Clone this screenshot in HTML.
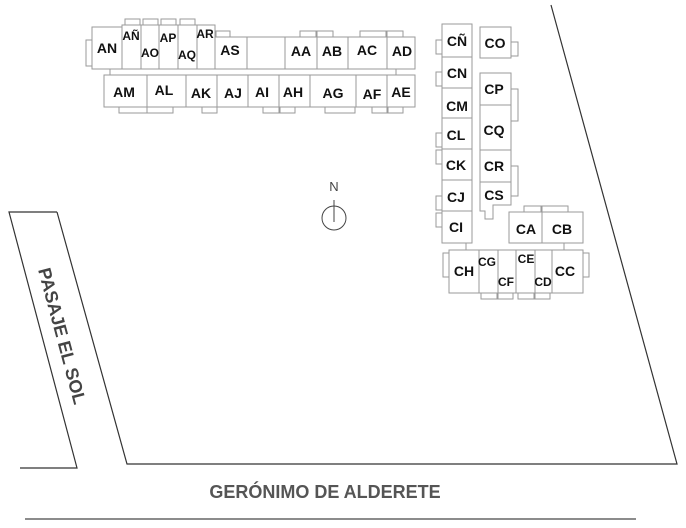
<!DOCTYPE html>
<html><head><meta charset="utf-8"><style>
html,body{margin:0;padding:0;background:#fff;width:686px;height:528px;overflow:hidden}
svg{display:block}
.b{fill:#fff;stroke:#9a9a9a;stroke-width:1}
.s{fill:#fff;stroke:#9a9a9a;stroke-width:1}
text{font-family:"Liberation Sans",sans-serif;font-weight:bold;fill:#111;text-anchor:middle}
.t{font-size:14px}
.m{font-size:12px}
</style></head><body>
<svg width="686" height="528" viewBox="0 0 686 528">
<!-- roads -->
<polyline points="20,468 77,468 9,212 57,212" fill="none" stroke="#333" stroke-width="1.2"/>
<polyline points="551,5 677,464 127,464 57,212" fill="none" stroke="#333" stroke-width="1.2"/>
<line x1="25" y1="519" x2="636" y2="519" stroke="#666" stroke-width="1.5"/>
<text x="325" y="498" style="font-size:18px;fill:#555">GERÓNIMO DE ALDERETE</text>
<text transform="translate(62,336) rotate(75)" style="font-size:18px;fill:#444" y="6">PASAJE EL SOL</text>
<!-- north -->
<text x="334" y="191" style="font-size:13px;font-weight:normal;fill:#444">N</text>
<circle cx="334" cy="218" r="12" fill="none" stroke="#444"/>
<line x1="334" y1="200" x2="334" y2="222" stroke="#444"/>
<!-- appendages top block -->
<rect class="s" x="86" y="40" width="6" height="26"/>
<rect class="s" x="125" y="19" width="15" height="6"/><rect class="s" x="143" y="19" width="15" height="6"/>
<rect class="s" x="161" y="19" width="15" height="6"/><rect class="s" x="180" y="19" width="15" height="6"/>
<rect class="s" x="216" y="31" width="14" height="6"/>
<rect class="s" x="300" y="31" width="16" height="6"/><rect class="s" x="317" y="31" width="16" height="6"/>
<rect class="s" x="360" y="31" width="26" height="6"/><rect class="s" x="387" y="31" width="16" height="6"/>
<rect class="s" x="119" y="107" width="28" height="6"/><rect class="s" x="147" y="107" width="26" height="6"/>
<rect class="s" x="202" y="107" width="15" height="6"/><rect class="s" x="263" y="107" width="16" height="6"/>
<rect class="s" x="280" y="107" width="15" height="6"/><rect class="s" x="325" y="107" width="30" height="6"/>
<rect class="s" x="372" y="107" width="15" height="6"/><rect class="s" x="388" y="107" width="15" height="6"/>
<!-- top row -->
<rect class="b" x="92" y="27" width="30" height="42"/>
<rect class="b" x="122" y="25" width="19" height="44"/><rect class="b" x="141" y="25" width="18" height="44"/>
<rect class="b" x="159" y="25" width="19" height="44"/><rect class="b" x="178" y="25" width="19" height="44"/>
<rect class="b" x="197" y="25" width="18" height="44"/>
<rect class="b" x="215" y="37" width="32" height="32"/><rect class="b" x="247" y="37" width="38" height="32"/>
<rect class="b" x="285" y="37" width="32" height="32"/><rect class="b" x="317" y="37" width="31" height="32"/>
<rect class="b" x="348" y="37" width="39" height="32"/><rect class="b" x="387" y="37" width="28" height="32"/>
<line x1="110" y1="69" x2="110" y2="75" stroke="#9a9a9a"/><line x1="396" y1="69" x2="396" y2="75" stroke="#9a9a9a"/>
<!-- bottom row -->
<rect class="b" x="104" y="75" width="43" height="32"/><rect class="b" x="147" y="75" width="39" height="32"/>
<rect class="b" x="186" y="75" width="31" height="32"/><rect class="b" x="217" y="75" width="31" height="32"/>
<rect class="b" x="248" y="75" width="31" height="32"/><rect class="b" x="279" y="75" width="31" height="32"/>
<rect class="b" x="310" y="75" width="46" height="32"/><rect class="b" x="356" y="75" width="31" height="32"/>
<rect class="b" x="387" y="75" width="28" height="32"/>
<text class="t" x="107" y="53">AN</text><text class="m" x="131" y="40">AÑ</text><text class="m" x="150" y="57">AO</text>
<text class="m" x="168" y="42">AP</text><text class="m" x="187" y="59">AQ</text><text class="m" x="205" y="38">AR</text>
<text class="t" x="230" y="55">AS</text><text class="t" x="301" y="56">AA</text><text class="t" x="332" y="56">AB</text>
<text class="t" x="367" y="55">AC</text><text class="t" x="402" y="56">AD</text>
<text class="t" x="124" y="97">AM</text><text class="t" x="164" y="95">AL</text><text class="t" x="201" y="98">AK</text>
<text class="t" x="233" y="98">AJ</text><text class="t" x="262" y="97">AI</text><text class="t" x="293" y="97">AH</text>
<text class="t" x="333" y="98">AG</text><text class="t" x="372" y="99">AF</text><text class="t" x="401" y="97">AE</text>
<!-- right group appendages -->
<rect class="s" x="436" y="40" width="6" height="14"/><rect class="s" x="436" y="72" width="6" height="14"/>
<rect class="s" x="436" y="133" width="6" height="14"/><rect class="s" x="436" y="150" width="6" height="14"/>
<rect class="s" x="436" y="196" width="6" height="14"/><rect class="s" x="436" y="213" width="6" height="14"/>
<rect class="s" x="511" y="42" width="7" height="14"/><rect class="s" x="511" y="89" width="7" height="32"/>
<rect class="s" x="511" y="166" width="7" height="30"/>
<rect class="s" x="524" y="206" width="17" height="6"/><rect class="s" x="542" y="206" width="26" height="6"/>
<rect class="s" x="443" y="253" width="6" height="24"/><rect class="s" x="583" y="253" width="6" height="24"/>
<rect class="s" x="481" y="293" width="16" height="6"/><rect class="s" x="498" y="293" width="15" height="6"/>
<rect class="s" x="518" y="293" width="16" height="6"/><rect class="s" x="535" y="293" width="15" height="6"/>
<!-- left column -->
<rect class="b" x="442" y="24" width="30" height="33"/><rect class="b" x="442" y="57" width="30" height="31"/>
<rect class="b" x="442" y="88" width="30" height="30"/><rect class="b" x="442" y="118" width="30" height="31"/>
<rect class="b" x="442" y="149" width="30" height="31"/><rect class="b" x="442" y="180" width="30" height="31"/>
<rect class="b" x="442" y="211" width="30" height="32"/>
<rect class="b" x="480" y="27" width="31" height="31"/><rect class="b" x="480" y="73" width="31" height="32"/>
<rect class="b" x="480" y="105" width="31" height="45"/><rect class="b" x="480" y="150" width="31" height="32"/>
<polygon class="b" points="480,182 511,182 511,205 493,205 493,219 485,219 485,211 480,211"/>
<rect class="b" x="509" y="212" width="33" height="31"/><rect class="b" x="542" y="212" width="41" height="31"/>
<line x1="466" y1="243" x2="466" y2="250" stroke="#9a9a9a"/><line x1="564" y1="243" x2="564" y2="250" stroke="#9a9a9a"/>
<rect class="b" x="449" y="250" width="30" height="43"/><rect class="b" x="479" y="250" width="19" height="43"/>
<rect class="b" x="498" y="250" width="18" height="43"/><rect class="b" x="516" y="250" width="19" height="43"/>
<rect class="b" x="535" y="250" width="17" height="43"/><rect class="b" x="552" y="250" width="31" height="43"/>
<text class="t" x="457" y="46">CÑ</text><text class="t" x="495" y="48">CO</text><text class="t" x="457" y="78">CN</text>
<text class="t" x="494" y="94">CP</text><text class="t" x="457" y="111">CM</text><text class="t" x="494" y="135">CQ</text>
<text class="t" x="456" y="140">CL</text><text class="t" x="456" y="170">CK</text><text class="t" x="494" y="171">CR</text>
<text class="t" x="456" y="202">CJ</text><text class="t" x="494" y="200">CS</text><text class="t" x="456" y="232">CI</text>
<text class="t" x="526" y="234">CA</text><text class="t" x="562" y="234">CB</text>
<text class="t" x="464" y="276">CH</text><text class="m" x="487" y="266">CG</text><text class="m" x="506" y="286">CF</text>
<text class="m" x="526" y="263">CE</text><text class="m" x="543" y="286">CD</text><text class="t" x="565" y="276">CC</text>
</svg>
</body></html>
